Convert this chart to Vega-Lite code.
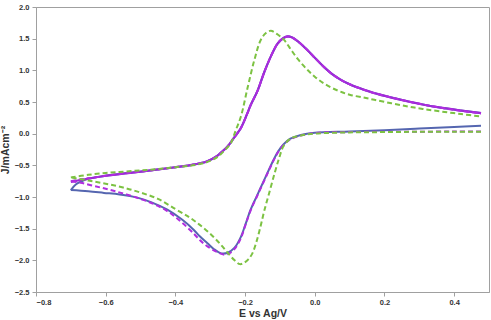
{
  "$schema": "https://vega.github.io/schema/vega-lite/v6.json",
  "width": 453,
  "height": 285,
  "autosize": "none",
  "padding": {"left": 36, "top": 7, "right": 2, "bottom": 28},
  "background": "white",
  "config": {
    "view": {"stroke": "#a0a0a0", "strokeWidth": 1},
    "axis": {
      "grid": false,
      "domainColor": "#a0a0a0",
      "tickColor": "#a0a0a0",
      "tickSize": 4,
      "labelFont": "Liberation Sans",
      "labelFontSize": 7.5,
      "labelFontWeight": "bold",
      "labelColor": "#333333",
      "titleFont": "Liberation Sans",
      "titleFontSize": 10.5,
      "titleFontWeight": "bold",
      "titleColor": "#333333"
    }
  },
  "datasets": {
    "curves": [
      {"s": "A", "i": 0, "E": -0.70, "J": -0.89},
      {"s": "A", "i": 1, "E": -0.685, "J": -0.80},
      {"s": "A", "i": 2, "E": -0.67, "J": -0.755},
      {"s": "A", "i": 3, "E": -0.65, "J": -0.71},
      {"s": "A", "i": 4, "E": -0.60, "J": -0.665},
      {"s": "A", "i": 5, "E": -0.55, "J": -0.63},
      {"s": "A", "i": 6, "E": -0.50, "J": -0.60},
      {"s": "A", "i": 7, "E": -0.45, "J": -0.565},
      {"s": "A", "i": 8, "E": -0.40, "J": -0.53},
      {"s": "A", "i": 9, "E": -0.35, "J": -0.49},
      {"s": "A", "i": 10, "E": -0.31, "J": -0.44},
      {"s": "A", "i": 11, "E": -0.28, "J": -0.35},
      {"s": "A", "i": 12, "E": -0.265, "J": -0.28},
      {"s": "A", "i": 13, "E": -0.25, "J": -0.20},
      {"s": "A", "i": 14, "E": -0.235, "J": -0.09},
      {"s": "A", "i": 15, "E": -0.212, "J": 0.09},
      {"s": "A", "i": 16, "E": -0.195, "J": 0.30},
      {"s": "A", "i": 17, "E": -0.184, "J": 0.45},
      {"s": "A", "i": 18, "E": -0.164, "J": 0.68},
      {"s": "A", "i": 19, "E": -0.145, "J": 0.97},
      {"s": "A", "i": 20, "E": -0.126, "J": 1.22},
      {"s": "A", "i": 21, "E": -0.107, "J": 1.42},
      {"s": "A", "i": 22, "E": -0.09, "J": 1.51},
      {"s": "A", "i": 23, "E": -0.078, "J": 1.535},
      {"s": "A", "i": 24, "E": -0.065, "J": 1.52},
      {"s": "A", "i": 25, "E": -0.049, "J": 1.46},
      {"s": "A", "i": 26, "E": -0.025, "J": 1.34},
      {"s": "A", "i": 27, "E": 0.0, "J": 1.20},
      {"s": "A", "i": 28, "E": 0.027, "J": 1.05},
      {"s": "A", "i": 29, "E": 0.05, "J": 0.94},
      {"s": "A", "i": 30, "E": 0.075, "J": 0.85},
      {"s": "A", "i": 31, "E": 0.10, "J": 0.78},
      {"s": "A", "i": 32, "E": 0.14, "J": 0.695},
      {"s": "A", "i": 33, "E": 0.171, "J": 0.64},
      {"s": "A", "i": 34, "E": 0.22, "J": 0.57},
      {"s": "A", "i": 35, "E": 0.267, "J": 0.51},
      {"s": "A", "i": 36, "E": 0.31, "J": 0.46},
      {"s": "A", "i": 37, "E": 0.362, "J": 0.41},
      {"s": "A", "i": 38, "E": 0.42, "J": 0.365},
      {"s": "A", "i": 39, "E": 0.477, "J": 0.325},
      {"s": "A2", "i": 40, "E": 0.477, "J": 0.125},
      {"s": "A2", "i": 41, "E": 0.40, "J": 0.105},
      {"s": "A2", "i": 42, "E": 0.30, "J": 0.08},
      {"s": "A2", "i": 43, "E": 0.20, "J": 0.055},
      {"s": "A2", "i": 44, "E": 0.10, "J": 0.035},
      {"s": "A2", "i": 45, "E": 0.0, "J": 0.015},
      {"s": "A2", "i": 46, "E": -0.04, "J": -0.02},
      {"s": "A2", "i": 47, "E": -0.07, "J": -0.08},
      {"s": "A2", "i": 48, "E": -0.09, "J": -0.17},
      {"s": "A2", "i": 49, "E": -0.105, "J": -0.28},
      {"s": "A2", "i": 50, "E": -0.117, "J": -0.40},
      {"s": "A2", "i": 51, "E": -0.13, "J": -0.55},
      {"s": "A2", "i": 52, "E": -0.145, "J": -0.73},
      {"s": "A2", "i": 53, "E": -0.165, "J": -0.97},
      {"s": "A2", "i": 54, "E": -0.184, "J": -1.20},
      {"s": "A2", "i": 55, "E": -0.20, "J": -1.45},
      {"s": "A2", "i": 56, "E": -0.212, "J": -1.63},
      {"s": "A2", "i": 57, "E": -0.23, "J": -1.80},
      {"s": "A2", "i": 58, "E": -0.25, "J": -1.88},
      {"s": "A2", "i": 59, "E": -0.268, "J": -1.89},
      {"s": "A2", "i": 60, "E": -0.29, "J": -1.82},
      {"s": "A2", "i": 61, "E": -0.308, "J": -1.73},
      {"s": "A2", "i": 62, "E": -0.33, "J": -1.62},
      {"s": "A2", "i": 63, "E": -0.347, "J": -1.52},
      {"s": "A2", "i": 64, "E": -0.38, "J": -1.36},
      {"s": "A2", "i": 65, "E": -0.423, "J": -1.20},
      {"s": "A2", "i": 66, "E": -0.47, "J": -1.08},
      {"s": "A2", "i": 67, "E": -0.509, "J": -1.01},
      {"s": "A2", "i": 68, "E": -0.56, "J": -0.96},
      {"s": "A2", "i": 69, "E": -0.605, "J": -0.935},
      {"s": "A2", "i": 70, "E": -0.65, "J": -0.91},
      {"s": "A2", "i": 71, "E": -0.70, "J": -0.89},

      {"s": "B", "i": 0, "E": -0.70, "J": -0.76},
      {"s": "B", "i": 1, "E": -0.685, "J": -0.745},
      {"s": "B", "i": 2, "E": -0.67, "J": -0.73},
      {"s": "B", "i": 3, "E": -0.65, "J": -0.71},
      {"s": "B", "i": 4, "E": -0.60, "J": -0.665},
      {"s": "B", "i": 5, "E": -0.55, "J": -0.63},
      {"s": "B", "i": 6, "E": -0.50, "J": -0.60},
      {"s": "B", "i": 7, "E": -0.45, "J": -0.565},
      {"s": "B", "i": 8, "E": -0.40, "J": -0.53},
      {"s": "B", "i": 9, "E": -0.35, "J": -0.49},
      {"s": "B", "i": 10, "E": -0.31, "J": -0.44},
      {"s": "B", "i": 11, "E": -0.28, "J": -0.35},
      {"s": "B", "i": 12, "E": -0.265, "J": -0.28},
      {"s": "B", "i": 13, "E": -0.25, "J": -0.20},
      {"s": "B", "i": 14, "E": -0.235, "J": -0.09},
      {"s": "B", "i": 15, "E": -0.212, "J": 0.09},
      {"s": "B", "i": 16, "E": -0.195, "J": 0.30},
      {"s": "B", "i": 17, "E": -0.184, "J": 0.45},
      {"s": "B", "i": 18, "E": -0.164, "J": 0.68},
      {"s": "B", "i": 19, "E": -0.145, "J": 0.97},
      {"s": "B", "i": 20, "E": -0.126, "J": 1.22},
      {"s": "B", "i": 21, "E": -0.107, "J": 1.42},
      {"s": "B", "i": 22, "E": -0.09, "J": 1.51},
      {"s": "B", "i": 23, "E": -0.078, "J": 1.535},
      {"s": "B", "i": 24, "E": -0.065, "J": 1.52},
      {"s": "B", "i": 25, "E": -0.049, "J": 1.46},
      {"s": "B", "i": 26, "E": -0.025, "J": 1.34},
      {"s": "B", "i": 27, "E": 0.0, "J": 1.20},
      {"s": "B", "i": 28, "E": 0.027, "J": 1.05},
      {"s": "B", "i": 29, "E": 0.05, "J": 0.94},
      {"s": "B", "i": 30, "E": 0.075, "J": 0.85},
      {"s": "B", "i": 31, "E": 0.10, "J": 0.78},
      {"s": "B", "i": 32, "E": 0.14, "J": 0.695},
      {"s": "B", "i": 33, "E": 0.171, "J": 0.64},
      {"s": "B", "i": 34, "E": 0.22, "J": 0.57},
      {"s": "B", "i": 35, "E": 0.267, "J": 0.51},
      {"s": "B", "i": 36, "E": 0.31, "J": 0.46},
      {"s": "B", "i": 37, "E": 0.362, "J": 0.41},
      {"s": "B", "i": 38, "E": 0.42, "J": 0.365},
      {"s": "B", "i": 39, "E": 0.477, "J": 0.325},

      {"s": "C", "i": 0, "E": -0.70, "J": -0.75},
      {"s": "C", "i": 1, "E": -0.67, "J": -0.72},
      {"s": "C", "i": 2, "E": -0.65, "J": -0.705},
      {"s": "C", "i": 3, "E": -0.60, "J": -0.665},
      {"s": "C", "i": 4, "E": -0.55, "J": -0.63},
      {"s": "C", "i": 5, "E": -0.50, "J": -0.60},
      {"s": "C", "i": 6, "E": -0.45, "J": -0.565},
      {"s": "C", "i": 7, "E": -0.40, "J": -0.53},
      {"s": "C", "i": 8, "E": -0.35, "J": -0.49},
      {"s": "C", "i": 9, "E": -0.31, "J": -0.44},
      {"s": "C", "i": 10, "E": -0.28, "J": -0.35},
      {"s": "C", "i": 11, "E": -0.265, "J": -0.28},
      {"s": "C", "i": 12, "E": -0.25, "J": -0.20},
      {"s": "C", "i": 13, "E": -0.235, "J": -0.09},
      {"s": "C", "i": 14, "E": -0.212, "J": 0.09},
      {"s": "C", "i": 15, "E": -0.195, "J": 0.30},
      {"s": "C", "i": 16, "E": -0.184, "J": 0.45},
      {"s": "C", "i": 17, "E": -0.164, "J": 0.68},
      {"s": "C", "i": 18, "E": -0.145, "J": 0.97},
      {"s": "C", "i": 19, "E": -0.126, "J": 1.22},
      {"s": "C", "i": 20, "E": -0.107, "J": 1.42},
      {"s": "C", "i": 21, "E": -0.09, "J": 1.51},
      {"s": "C", "i": 22, "E": -0.078, "J": 1.535},
      {"s": "C", "i": 23, "E": -0.065, "J": 1.52},
      {"s": "C", "i": 24, "E": -0.049, "J": 1.46},
      {"s": "C", "i": 25, "E": -0.025, "J": 1.34},
      {"s": "C", "i": 26, "E": 0.0, "J": 1.20},
      {"s": "C", "i": 27, "E": 0.027, "J": 1.05},
      {"s": "C", "i": 28, "E": 0.05, "J": 0.94},
      {"s": "C", "i": 29, "E": 0.075, "J": 0.85},
      {"s": "C", "i": 30, "E": 0.10, "J": 0.78},
      {"s": "C", "i": 31, "E": 0.14, "J": 0.695},
      {"s": "C", "i": 32, "E": 0.171, "J": 0.64},
      {"s": "C", "i": 33, "E": 0.22, "J": 0.57},
      {"s": "C", "i": 34, "E": 0.267, "J": 0.51},
      {"s": "C", "i": 35, "E": 0.31, "J": 0.46},
      {"s": "C", "i": 36, "E": 0.362, "J": 0.41},
      {"s": "C", "i": 37, "E": 0.42, "J": 0.36},
      {"s": "C", "i": 38, "E": 0.477, "J": 0.32},
      {"s": "C2", "i": 39, "E": 0.477, "J": 0.035},
      {"s": "C2", "i": 40, "E": 0.40, "J": 0.035},
      {"s": "C2", "i": 41, "E": 0.30, "J": 0.03},
      {"s": "C2", "i": 42, "E": 0.20, "J": 0.03},
      {"s": "C2", "i": 43, "E": 0.10, "J": 0.025},
      {"s": "C2", "i": 44, "E": 0.0, "J": 0.01},
      {"s": "C2", "i": 45, "E": -0.04, "J": -0.03},
      {"s": "C2", "i": 46, "E": -0.07, "J": -0.09},
      {"s": "C2", "i": 47, "E": -0.09, "J": -0.18},
      {"s": "C2", "i": 48, "E": -0.105, "J": -0.29},
      {"s": "C2", "i": 49, "E": -0.117, "J": -0.41},
      {"s": "C2", "i": 50, "E": -0.13, "J": -0.56},
      {"s": "C2", "i": 51, "E": -0.145, "J": -0.74},
      {"s": "C2", "i": 52, "E": -0.165, "J": -0.98},
      {"s": "C2", "i": 53, "E": -0.184, "J": -1.21},
      {"s": "C2", "i": 54, "E": -0.20, "J": -1.46},
      {"s": "C2", "i": 55, "E": -0.212, "J": -1.65},
      {"s": "C2", "i": 56, "E": -0.23, "J": -1.82},
      {"s": "C2", "i": 57, "E": -0.245, "J": -1.89},
      {"s": "C2", "i": 58, "E": -0.26, "J": -1.91},
      {"s": "C2", "i": 59, "E": -0.28, "J": -1.87},
      {"s": "C2", "i": 60, "E": -0.308, "J": -1.78},
      {"s": "C2", "i": 61, "E": -0.33, "J": -1.68},
      {"s": "C2", "i": 62, "E": -0.347, "J": -1.58},
      {"s": "C2", "i": 63, "E": -0.38, "J": -1.41},
      {"s": "C2", "i": 64, "E": -0.413, "J": -1.26},
      {"s": "C2", "i": 65, "E": -0.45, "J": -1.14},
      {"s": "C2", "i": 66, "E": -0.49, "J": -1.05},
      {"s": "C2", "i": 67, "E": -0.54, "J": -0.96},
      {"s": "C2", "i": 68, "E": -0.586, "J": -0.89},
      {"s": "C2", "i": 69, "E": -0.63, "J": -0.83},
      {"s": "C2", "i": 70, "E": -0.672, "J": -0.775},
      {"s": "C2", "i": 71, "E": -0.70, "J": -0.75},

      {"s": "D", "i": 0, "E": -0.70, "J": -0.69},
      {"s": "D", "i": 1, "E": -0.65, "J": -0.65},
      {"s": "D", "i": 2, "E": -0.60, "J": -0.62},
      {"s": "D", "i": 3, "E": -0.55, "J": -0.60},
      {"s": "D", "i": 4, "E": -0.50, "J": -0.58},
      {"s": "D", "i": 5, "E": -0.45, "J": -0.56},
      {"s": "D", "i": 6, "E": -0.40, "J": -0.53},
      {"s": "D", "i": 7, "E": -0.35, "J": -0.50},
      {"s": "D", "i": 8, "E": -0.31, "J": -0.45},
      {"s": "D", "i": 9, "E": -0.28, "J": -0.37},
      {"s": "D", "i": 10, "E": -0.26, "J": -0.27},
      {"s": "D", "i": 11, "E": -0.241, "J": -0.15},
      {"s": "D", "i": 12, "E": -0.227, "J": 0.05},
      {"s": "D", "i": 13, "E": -0.212, "J": 0.27},
      {"s": "D", "i": 14, "E": -0.193, "J": 0.72},
      {"s": "D", "i": 15, "E": -0.174, "J": 1.15},
      {"s": "D", "i": 16, "E": -0.155, "J": 1.48},
      {"s": "D", "i": 17, "E": -0.14, "J": 1.59},
      {"s": "D", "i": 18, "E": -0.126, "J": 1.625},
      {"s": "D", "i": 19, "E": -0.11, "J": 1.58},
      {"s": "D", "i": 20, "E": -0.088, "J": 1.48},
      {"s": "D", "i": 21, "E": -0.07, "J": 1.34},
      {"s": "D", "i": 22, "E": -0.049, "J": 1.18},
      {"s": "D", "i": 23, "E": -0.025, "J": 1.03},
      {"s": "D", "i": 24, "E": 0.0, "J": 0.90},
      {"s": "D", "i": 25, "E": 0.03, "J": 0.78},
      {"s": "D", "i": 26, "E": 0.066, "J": 0.68},
      {"s": "D", "i": 27, "E": 0.10, "J": 0.615},
      {"s": "D", "i": 28, "E": 0.14, "J": 0.57},
      {"s": "D", "i": 29, "E": 0.171, "J": 0.535},
      {"s": "D", "i": 30, "E": 0.22, "J": 0.48},
      {"s": "D", "i": 31, "E": 0.267, "J": 0.43},
      {"s": "D", "i": 32, "E": 0.31, "J": 0.39},
      {"s": "D", "i": 33, "E": 0.362, "J": 0.35},
      {"s": "D", "i": 34, "E": 0.42, "J": 0.31},
      {"s": "D", "i": 35, "E": 0.477, "J": 0.27},
      {"s": "D2", "i": 36, "E": 0.477, "J": 0.03},
      {"s": "D2", "i": 37, "E": 0.40, "J": 0.03},
      {"s": "D2", "i": 38, "E": 0.30, "J": 0.03},
      {"s": "D2", "i": 39, "E": 0.20, "J": 0.025},
      {"s": "D2", "i": 40, "E": 0.10, "J": 0.02},
      {"s": "D2", "i": 41, "E": 0.0, "J": 0.0},
      {"s": "D2", "i": 42, "E": -0.04, "J": -0.03},
      {"s": "D2", "i": 43, "E": -0.07, "J": -0.08},
      {"s": "D2", "i": 44, "E": -0.09, "J": -0.20},
      {"s": "D2", "i": 45, "E": -0.102, "J": -0.38},
      {"s": "D2", "i": 46, "E": -0.115, "J": -0.62},
      {"s": "D2", "i": 47, "E": -0.131, "J": -0.94},
      {"s": "D2", "i": 48, "E": -0.145, "J": -1.22},
      {"s": "D2", "i": 49, "E": -0.155, "J": -1.45},
      {"s": "D2", "i": 50, "E": -0.167, "J": -1.70},
      {"s": "D2", "i": 51, "E": -0.179, "J": -1.89},
      {"s": "D2", "i": 52, "E": -0.19, "J": -1.98},
      {"s": "D2", "i": 53, "E": -0.203, "J": -2.04},
      {"s": "D2", "i": 54, "E": -0.215, "J": -2.06},
      {"s": "D2", "i": 55, "E": -0.23, "J": -2.0},
      {"s": "D2", "i": 56, "E": -0.25, "J": -1.88},
      {"s": "D2", "i": 57, "E": -0.27, "J": -1.75},
      {"s": "D2", "i": 58, "E": -0.30, "J": -1.58},
      {"s": "D2", "i": 59, "E": -0.33, "J": -1.44},
      {"s": "D2", "i": 60, "E": -0.36, "J": -1.32},
      {"s": "D2", "i": 61, "E": -0.40, "J": -1.19},
      {"s": "D2", "i": 62, "E": -0.45, "J": -1.03},
      {"s": "D2", "i": 63, "E": -0.50, "J": -0.93},
      {"s": "D2", "i": 64, "E": -0.55, "J": -0.85},
      {"s": "D2", "i": 65, "E": -0.60, "J": -0.79},
      {"s": "D2", "i": 66, "E": -0.65, "J": -0.74},
      {"s": "D2", "i": 67, "E": -0.70, "J": -0.69}
    ]
  },
  "data": {"name": "curves"},
  "encoding": {
    "x": {
      "field": "E", "type": "quantitative",
      "scale": {"domain": [-0.8, 0.5], "nice": false, "zero": false},
      "axis": {"values": [-0.8, -0.6, -0.4, -0.2, 0.0, 0.2, 0.4], "format": ".1f", "title": "E vs Ag/V", "titlePadding": 3, "labelPadding": 2}
    },
    "y": {
      "field": "J", "type": "quantitative",
      "scale": {"domain": [-2.5, 2.0], "nice": false, "zero": false},
      "axis": {"values": [-2.5, -2.0, -1.5, -1.0, -0.5, 0.0, 0.5, 1.0, 1.5, 2.0], "format": ".1f", "title": "J/mAcm⁻²", "titlePadding": 4, "labelPadding": 3}
    },
    "order": {"field": "i", "type": "quantitative"},
    "detail": {"field": "s", "type": "nominal"}
  },
  "layer": [
    {
      "transform": [{"filter": "datum.s === 'A' || datum.s === 'A2'"}],
      "mark": {"type": "line", "color": "#5566b0", "strokeWidth": 2, "interpolate": "catmull-rom"}
    },
    {
      "transform": [{"filter": "datum.s === 'B'"}],
      "mark": {"type": "line", "color": "#9b2ad6", "strokeWidth": 2.2, "interpolate": "catmull-rom"}
    },
    {
      "transform": [{"filter": "datum.s === 'C' || datum.s === 'C2'"}],
      "mark": {"type": "line", "color": "#b02ee0", "strokeWidth": 2, "strokeDash": [5, 3], "interpolate": "catmull-rom"}
    },
    {
      "transform": [{"filter": "datum.s === 'D' || datum.s === 'D2'"}],
      "mark": {"type": "line", "color": "#7cc242", "strokeWidth": 2, "strokeDash": [5, 3], "interpolate": "catmull-rom"}
    }
  ]
}
